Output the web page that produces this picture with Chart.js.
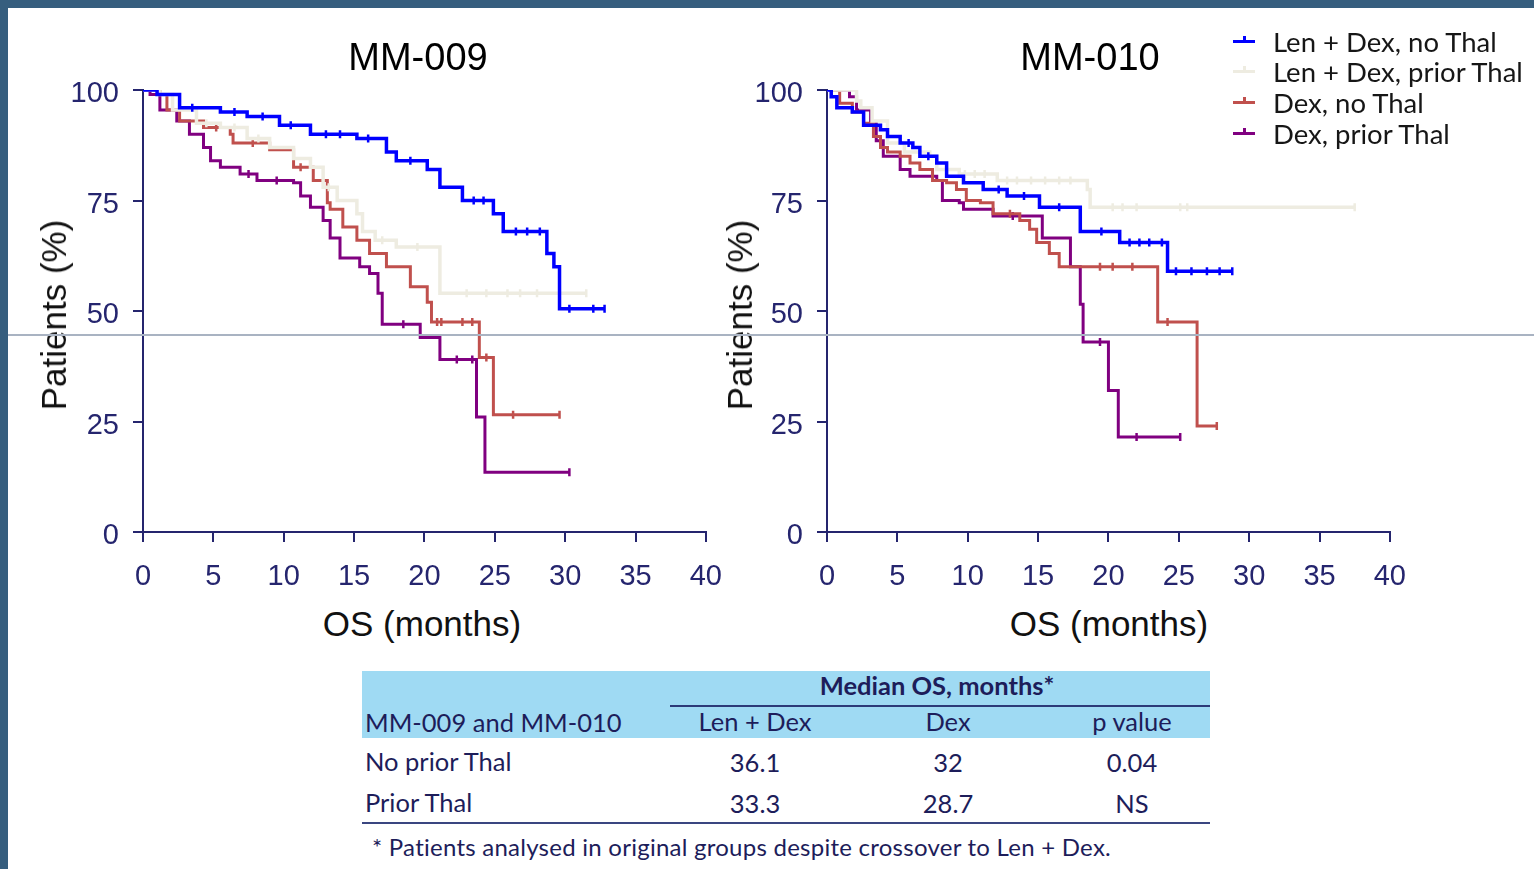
<!DOCTYPE html>
<html>
<head>
<meta charset="utf-8">
<script src="https://cdn.jsdelivr.net/npm/chart.js@4.4.1/dist/chart.umd.min.js"></script>
<style>
  html, body { margin:0; padding:0; }
  body { width:1534px; height:869px; position:relative; overflow:hidden; background:#ffffff; }
  #bordTop { position:absolute; left:0; top:0; width:1534px; height:8px; background:#365e7e; }
  #bordLeft { position:absolute; left:0; top:0; width:8px; height:869px; background:#365e7e; }
  canvas { position:absolute; top:0; }
  .t { position:absolute; white-space:nowrap; transform:translate(-50%,-50%); }
  .l { position:absolute; white-space:nowrap; transform:translate(0,-50%); }
  .title { font-family:"Liberation Sans", Arial, sans-serif; font-size:38px; color:#000; }
  .axt { font-family:"Liberation Sans", Arial, sans-serif; font-size:35px; color:#111; }
  .rot { transform:translate(-50%,-50%) rotate(-90deg); }
  .leg { font-family:"Lato", "Open Sans", sans-serif; font-size:27.5px; color:#161616; }
  .tab { font-family:"Lato", "Open Sans", sans-serif; font-size:25.5px; color:#1d1d5a; }
  #hline { position:absolute; left:8px; top:334px; width:1526px; height:2px; background:#a9b3c2; z-index:10; }
</style>
</head>
<body>
<div id="bordTop"></div>
<div id="bordLeft"></div>
<canvas id="c1" width="740" height="600" style="left:0px"></canvas>
<canvas id="c2" width="740" height="600" style="left:684px"></canvas>
<div id="texts"></div>
<div id="hline"></div>
<script>
// ---------- DATA ----------
const seriesNames = ["Len + Dex, no Thal", "Len + Dex, prior Thal", "Dex, no Thal", "Dex, prior Thal"];
const seriesColors = ["#0000ff", "#eeece1", "#c0504d", "#800080"];
const xTicks = [0, 5, 10, 15, 20, 25, 30, 35, 40];
const yTicks = [0, 25, 50, 75, 100];
const chartTitles = ["MM-009", "MM-010"];
const xTitle = "OS (months)";
const yTitle = "Patients (%)";

// MM-009 (months, % surviving)
const mm009_lenDexNoThal_t = [0, 1, 2.6, 5.5, 7.4, 9.7, 11.9, 15.2, 17.3, 18, 20.2, 21.1, 22.7, 24.9, 25.6, 28.7, 29.2, 29.6, 32.8];
const mm009_lenDexNoThal_s = [100, 99, 96, 95, 94, 92, 90, 89, 86, 84, 82, 78, 75, 72, 68, 63, 60, 50.5, 50.5];
const mm009_lenDexPriorThal_t = [0, 1.2, 2.1, 3.8, 5.5, 7.4, 9, 10.7, 11.9, 12.8, 13.8, 15.2, 15.6, 16.5, 18, 21.1, 31.5];
const mm009_lenDexPriorThal_s = [100, 99, 95.5, 92.5, 91.5, 89, 87, 84.5, 82.5, 78, 75, 72, 68, 66, 64.5, 54, 54];
const mm009_dexNoThal_t = [0, 1.2, 1.7, 2.6, 4.3, 6.2, 6.4, 9, 10.7, 12.1, 13.1, 13.3, 14.2, 15.2, 16.1, 17.3, 19, 20.2, 20.5, 23.9, 24.9, 29.6];
const mm009_dexNoThal_s = [100, 99, 95.5, 93, 91.5, 90, 88, 86.5, 82.5, 79.5, 74.5, 73, 69, 66, 63, 60, 55.5, 52, 47.5, 39.5, 26.5, 26.5];
const mm009_dexPriorThal_t = [0, 0.5, 1.2, 2.4, 3.3, 4.3, 4.8, 5.5, 6.9, 8.1, 10.7, 11.2, 11.9, 12.8, 13.3, 14, 15.4, 16.1, 16.7, 17, 19.7, 21.1, 23.7, 24.3, 30.3];
const mm009_dexPriorThal_s = [100, 99, 95.5, 93, 90, 87, 84, 82.5, 81, 79.5, 79, 76, 73.5, 70.5, 66.5, 62, 60, 58.5, 54, 47, 44, 39, 26, 13.5, 13.5];
// MM-009 censor times
const mm009_lenDexNoThal_c = [3.5, 6.5, 8.5, 10.5, 13, 14, 16, 19, 23.5, 24.2, 26.5, 27.3, 28.2, 30.3, 32.0, 32.8];
const mm009_lenDexPriorThal_c = [4.5, 6.5, 8.2, 13.2, 17, 19.5, 23.0, 24.4, 25.9, 26.8, 28.0, 29.6, 31.5];
const mm009_dexNoThal_c = [5.2, 7.8, 11.2, 20.9, 21.2, 22.7, 23.4, 24.4, 26.3, 29.6];
const mm009_dexPriorThal_c = [7.5, 9.5, 18.5, 22.3, 23.4, 30.3];

// MM-010
const mm010_lenDexNoThal_t = [0, 0.3, 0.7, 1.8, 2.6, 3.8, 4.3, 5.2, 6.1, 6.6, 7.8, 8.5, 9.7, 11.1, 12.8, 15.1, 18, 20.8, 24.2, 28.8];
const mm010_lenDexNoThal_s = [100, 98.5, 96, 95, 92, 91, 89.5, 88, 87, 85, 83.5, 80.5, 79, 77.5, 76, 73.5, 68, 65.5, 59, 59];
const mm010_lenDexPriorThal_t = [0, 2.1, 2.4, 3.2, 4.3, 5.5, 7.3, 7.8, 9.4, 12.1, 18.5, 18.7, 37.5];
const mm010_lenDexPriorThal_s = [100, 97.5, 96, 93, 88, 86, 85, 82, 81, 79.5, 77.5, 73.5, 73.5];
const mm010_dexNoThal_t = [0, 0.9, 1.8, 2.6, 3.3, 3.8, 4.3, 5.2, 5.9, 6.6, 7.5, 8.5, 9.2, 9.9, 10.9, 11.8, 13.7, 14.4, 14.9, 15.8, 16.5, 23.5, 26.3, 27.7];
const mm010_dexNoThal_s = [100, 97, 95, 92.5, 89.5, 87, 86, 85, 83.5, 82, 79.5, 79, 77.5, 75, 74.5, 72, 70.5, 68.5, 65.5, 63, 60, 47.5, 24, 24];
const mm010_dexPriorThal_t = [0, 1.6, 2.1, 3.1, 3.5, 4, 5.2, 5.9, 7.8, 8.2, 9.4, 9.7, 11.8, 15.3, 17.3, 18, 18.2, 20, 20.7, 25.1];
const mm010_dexPriorThal_s = [100, 98.5, 95.5, 92.5, 88.5, 85, 82, 80.5, 79.5, 75, 74.5, 73, 71.5, 66.5, 60, 51.5, 43, 32, 21.5, 21.5];
// MM-010 censor times
const mm010_lenDexNoThal_c = [5.8, 7.2, 12.2, 14, 16.5, 19.5, 21.5, 22.2, 22.9, 23.8, 24.8, 25.9, 27.0, 27.9, 28.8];
const mm010_lenDexPriorThal_c = [9.8, 10.5, 11.2, 12.8, 13.5, 14.5, 15.5, 16.5, 17.3, 20.3, 21.0, 22.0, 25.1, 25.6, 37.5];
const mm010_dexNoThal_c = [13, 19.4, 20.3, 21.7, 24.2, 27.7];
const mm010_dexPriorThal_c = [13.2, 19.4, 22.0, 25.1];

// Table
const tableHeader = "Median OS, months*";
const tableCols = ["MM-009 and MM-010", "Len + Dex", "Dex", "p value"];
const tableRowLabels = ["No prior Thal", "Prior Thal"];
const medianLenDex = ["36.1", "33.3"];
const medianDex = ["32", "28.7"];
const pValues = ["0.04", "NS"];
const footnote = "* Patients analysed in original groups despite crossover to Len + Dex.";

// ---------- CHARTS ----------
const NAVY = "#25256e";
function pts(t, s) { return t.map((x, i) => ({ x: x, y: s[i] })); }
// survival value of a step curve at time x (used to place censor ticks on the curve)
function stepAt(t, s, x) {
  let v = s[0];
  for (let i = 0; i < t.length; i++) { if (t[i] <= x) v = s[i]; }
  return v;
}

function makeChart(id, groups) {
  const widths = [3.5, 3.5, 3, 3];
  const datasets = [];
  groups.forEach((g, i) => {
    datasets.push({
      label: seriesNames[i],
      data: pts(g[0], g[1]),
      borderColor: seriesColors[i],
      backgroundColor: seriesColors[i],
      borderWidth: widths[i],
      stepped: true,
      pointRadius: 0,
      fill: false,
      tension: 0,
      order: i * 2 + 1
    });
    datasets.push({
      label: seriesNames[i] + " (censored)",
      data: g[2].map(x => ({ x: x, y: stepAt(g[0], g[1], x) })),
      showLine: false,
      borderColor: seriesColors[i],
      backgroundColor: seriesColors[i],
      pointStyle: "line",
      rotation: 90,
      pointRadius: 4,
      pointBorderWidth: 2.5,
      order: i * 2
    });
  });
  return new Chart(document.getElementById(id), {
    type: "line",
    data: { datasets: datasets },
    options: {
      responsive: false,
      animation: false,
      layout: { padding: { top: 90, right: 34, left: 0, bottom: 0 } },
      plugins: { legend: { display: false }, tooltip: { enabled: false }, title: { display: false } },
      scales: {
        x: {
          type: "linear", min: 0, max: 40,
          afterBuildTicks: (s) => { s.ticks = xTicks.map(v => ({ value: v })); },
          afterFit: (s) => { s.height = 68; },
          ticks: { font: { family: "Liberation Sans", size: 29 }, color: NAVY, padding: 18, maxRotation: 0 },
          grid: { drawOnChartArea: false, drawTicks: true, tickLength: 10, color: NAVY, lineWidth: 2 },
          border: { display: true, color: NAVY, width: 2 }
        },
        y: {
          type: "linear", min: 0, max: 100,
          afterBuildTicks: (s) => { s.ticks = yTicks.map(v => ({ value: v })); },
          afterFit: (s) => { s.width = 143; },
          ticks: { font: { family: "Liberation Sans", size: 29 }, color: NAVY, padding: 14, labelOffset: 4 },
          grid: { drawOnChartArea: false, drawTicks: true, tickLength: 10, color: NAVY, lineWidth: 2 },
          border: { display: true, color: NAVY, width: 2 }
        }
      }
    }
  });
}

makeChart("c1", [
  [mm009_lenDexNoThal_t, mm009_lenDexNoThal_s, mm009_lenDexNoThal_c],
  [mm009_lenDexPriorThal_t, mm009_lenDexPriorThal_s, mm009_lenDexPriorThal_c],
  [mm009_dexNoThal_t, mm009_dexNoThal_s, mm009_dexNoThal_c],
  [mm009_dexPriorThal_t, mm009_dexPriorThal_s, mm009_dexPriorThal_c]
]);
makeChart("c2", [
  [mm010_lenDexNoThal_t, mm010_lenDexNoThal_s, mm010_lenDexNoThal_c],
  [mm010_lenDexPriorThal_t, mm010_lenDexPriorThal_s, mm010_lenDexPriorThal_c],
  [mm010_dexNoThal_t, mm010_dexNoThal_s, mm010_dexNoThal_c],
  [mm010_dexPriorThal_t, mm010_dexPriorThal_s, mm010_dexPriorThal_c]
]);

// ---------- TEXT / LEGEND / TABLE ----------
const T = document.getElementById("texts");
function add(cls, txt, x, y, extra) {
  const d = document.createElement("div");
  d.className = cls;
  d.textContent = txt;
  d.style.left = x + "px";
  d.style.top = y + "px";
  if (extra) Object.assign(d.style, extra);
  T.appendChild(d);
  return d;
}
function box(x, y, w, h, color) {
  const d = document.createElement("div");
  d.style.position = "absolute";
  d.style.left = x + "px"; d.style.top = y + "px";
  d.style.width = w + "px"; d.style.height = h + "px";
  d.style.background = color;
  T.appendChild(d);
}

// titles and axis titles
add("t title", chartTitles[0], 418, 57);
add("t title", chartTitles[1], 1090, 57);
add("t axt", xTitle, 422, 624);
add("t axt", xTitle, 1109, 624);
add("t axt rot", yTitle, 54, 315);
add("t axt rot", yTitle, 740, 315);

// legend
const legY = [41, 71, 102, 133];
seriesNames.forEach((n, i) => {
  box(1233, legY[i] - 1, 22, 3, seriesColors[i]);
  box(1243, legY[i] - 5, 3, 5, seriesColors[i]);
  add("l leg", n, 1273, legY[i]);
});

// table
box(362, 671, 848, 67, "#9fdaf3");
box(670, 705, 540, 2, "#2c3a78");
box(362, 822, 848, 2, "#3a4680");
add("t tab", tableHeader, 937, 685, { fontWeight: "bold" });
const colX = [null, 755, 948, 1132];
add("l tab", tableCols[0], 365, 722);
for (let c = 1; c < 4; c++) add("t tab", tableCols[c], colX[c], 721);
const rowY = [762, 803];
tableRowLabels.forEach((r, i) => {
  add("l tab", r, 365, rowY[i] - 1);
  add("t tab", medianLenDex[i], colX[1], rowY[i]);
  add("t tab", medianDex[i], colX[2], rowY[i]);
  add("t tab", pValues[i], colX[3], rowY[i]);
});
add("l tab", footnote, 372, 846, { fontSize: "24px", letterSpacing: "0.25px" });
</script>
</body>
</html>
